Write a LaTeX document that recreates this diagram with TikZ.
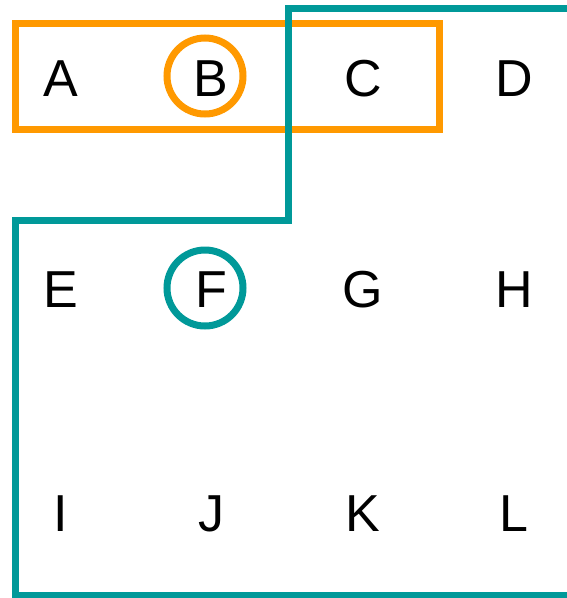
\documentclass[tikz,border=0pt]{standalone}
\usepackage{fontspec}
\setmainfont{Liberation Sans}
\definecolor{myorange}{RGB}{255,153,0}
\definecolor{myteal}{RGB}{0,153,153}
\begin{document}
\begin{tikzpicture}[x=1pt,y=-1pt,
  letter/.style={inner sep=0pt,text height=37.2pt,text depth=0pt,font=\fontsize{52}{52}\selectfont},
  ring/.style={circle,draw,line width=7pt,minimum size=76pt,inner sep=0pt},
  frame/.style={line width=7pt}]
\useasboundingbox (0,0) rectangle (566,598);
\node[letter] (A) at (61,77.5) {A};
\node[letter] (B) at (211,77.5) {B};
\node[letter] (C) at (363,77.5) {C};
\node[letter] (D) at (514,77.5) {D};
\node[letter] (E) at (61,289) {E};
\node[letter] (F) at (211,289) {F};
\node[letter] (G) at (363,289) {G};
\node[letter] (H) at (514,289) {H};
\node[letter] (I) at (61,512.5) {I};
\node[letter] (J) at (211,512.5) {J};
\node[letter] (K) at (363,512.5) {K};
\node[letter] (L) at (514,512.5) {L};
\node[ring,draw=myorange] (ringB) at (205,76) {};
\node[ring,draw=myteal] (ringF) at (205,288) {};
\draw[frame,draw=myorange] (15.5,23.5) rectangle (439,129.5);
\draw[frame,draw=myteal] (575,8) -- (288,8) -- (288,220) -- (15.5,220) -- (15.5,595) -- (575,595);
\end{tikzpicture}
\end{document}
